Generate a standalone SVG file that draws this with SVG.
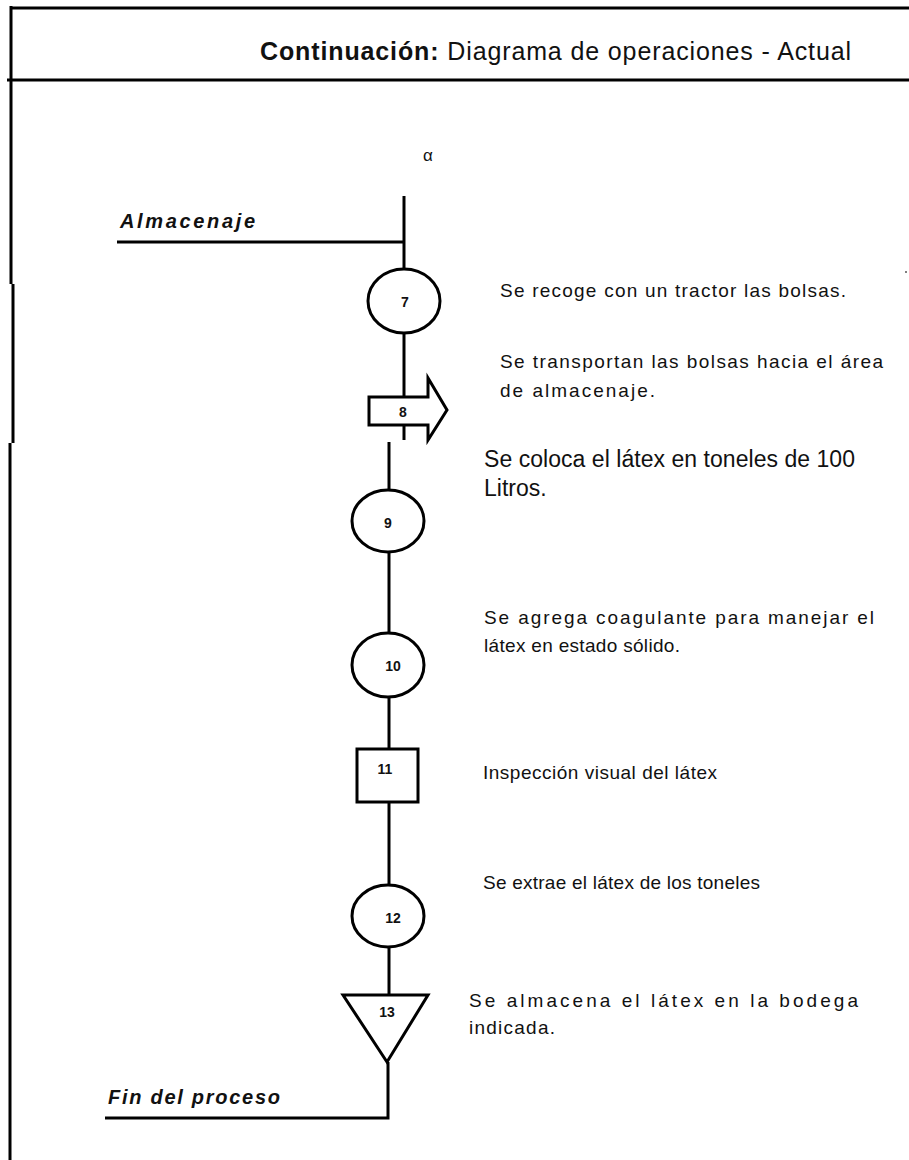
<svg xmlns="http://www.w3.org/2000/svg" width="909" height="1160" viewBox="0 0 909 1160">
<style>
.ln{stroke:#000;stroke-width:3;fill:none}
.shp{stroke:#000;stroke-width:3;fill:#fff}
.num{font-family:"Liberation Sans",Arial,sans-serif;font-weight:bold;font-size:14px;fill:#111;text-anchor:middle}
.desc{font-family:"Liberation Sans",Arial,sans-serif;font-size:19px;fill:#111}
.big{font-size:23px}
.lab{font-family:"Liberation Sans",Arial,sans-serif;font-size:20px;font-weight:bold;font-style:italic;fill:#111}
</style>
<rect width="909" height="1160" fill="#fff"/>
<g id="frame" class="ln">
<line x1="11" y1="8" x2="909" y2="8"/>
<line x1="7" y1="80" x2="909" y2="80"/>
<line x1="11" y1="6" x2="11" y2="284"/>
<line x1="13" y1="284" x2="13" y2="443"/>
<line x1="10" y1="443" x2="10" y2="1160"/>
</g>
<text id="title" x="260" y="60" font-family="'Liberation Sans',Arial,sans-serif" font-size="25" fill="#111" textLength="591" lengthAdjust="spacing"><tspan font-weight="bold">Continuación:</tspan> Diagrama de operaciones - Actual</text>
<text id="alpha" x="428" y="161" font-family="'Liberation Sans',Arial,sans-serif" font-size="17" fill="#111" text-anchor="middle">α</text>
<circle cx="906" cy="272" r="1" fill="#555"/>
<g id="connectors" class="ln">
<line x1="117" y1="242" x2="404" y2="242"/>
<line x1="404" y1="196" x2="404" y2="269"/>
<line x1="404" y1="333" x2="404" y2="397"/>
<line x1="404" y1="425" x2="404" y2="440"/>
<line x1="389" y1="442" x2="389" y2="490"/>
<line x1="389" y1="552" x2="389" y2="633"/>
<line x1="389" y1="697" x2="389" y2="749"/>
<line x1="389" y1="802" x2="389" y2="885"/>
<line x1="389" y1="947" x2="389" y2="995"/>
<polyline points="388,1062 388,1118 105,1118"/>
</g>
<text id="lbl-almacenaje" class="lab" x="120" y="228" textLength="135" lengthAdjust="spacing">Almacenaje</text>
<text id="lbl-fin" class="lab" x="108" y="1104" textLength="172" lengthAdjust="spacing">Fin del proceso</text>
<g id="n7">
<ellipse class="shp" cx="404" cy="301" rx="36" ry="32"/>
<text class="num" x="405" y="307">7</text>
<text class="desc" x="500" y="297" textLength="346" lengthAdjust="spacing">Se recoge con un tractor las bolsas.</text>
</g>
<g id="n8">
<polygon class="shp" points="369,397 428,397 428,378 447,410 428,440 428,425 369,425"/>
<text class="num" x="403" y="417">8</text>
<text class="desc" x="500" y="368" textLength="383" lengthAdjust="spacing">Se transportan las bolsas hacia el área</text>
<text class="desc" x="500" y="397" textLength="155" lengthAdjust="spacing">de almacenaje.</text>
</g>
<g id="n9">
<ellipse class="shp" cx="388" cy="521" rx="36" ry="31"/>
<text class="num" x="388" y="528">9</text>
<text class="desc big" x="484" y="467" textLength="371" lengthAdjust="spacing">Se coloca el látex en toneles de 100</text>
<text class="desc big" x="484" y="496">Litros.</text>
</g>
<g id="n10">
<ellipse class="shp" cx="388" cy="665" rx="36" ry="32"/>
<text class="num" x="393" y="671">10</text>
<text class="desc" x="484" y="624" textLength="390" lengthAdjust="spacing">Se agrega coagulante para manejar el</text>
<text class="desc" x="484" y="652" textLength="196" lengthAdjust="spacing">látex en estado sólido.</text>
</g>
<g id="n11">
<rect class="shp" x="357" y="749" width="61" height="53"/>
<text class="num" x="385" y="774">11</text>
<text class="desc" x="483" y="779" textLength="234" lengthAdjust="spacing">Inspección visual del látex</text>
</g>
<g id="n12">
<ellipse class="shp" cx="388" cy="916" rx="36" ry="31"/>
<text class="num" x="393" y="923">12</text>
<text class="desc" x="483" y="889" textLength="277" lengthAdjust="spacing">Se extrae el látex de los toneles</text>
</g>
<g id="n13">
<polygon class="shp" points="343,995 428,995 387,1062"/>
<text class="num" x="387" y="1017">13</text>
<text class="desc" x="469" y="1007" textLength="389" lengthAdjust="spacing">Se almacena el látex en la bodega</text>
<text class="desc" x="469" y="1034" textLength="86" lengthAdjust="spacing">indicada.</text>
</g>
</svg>
